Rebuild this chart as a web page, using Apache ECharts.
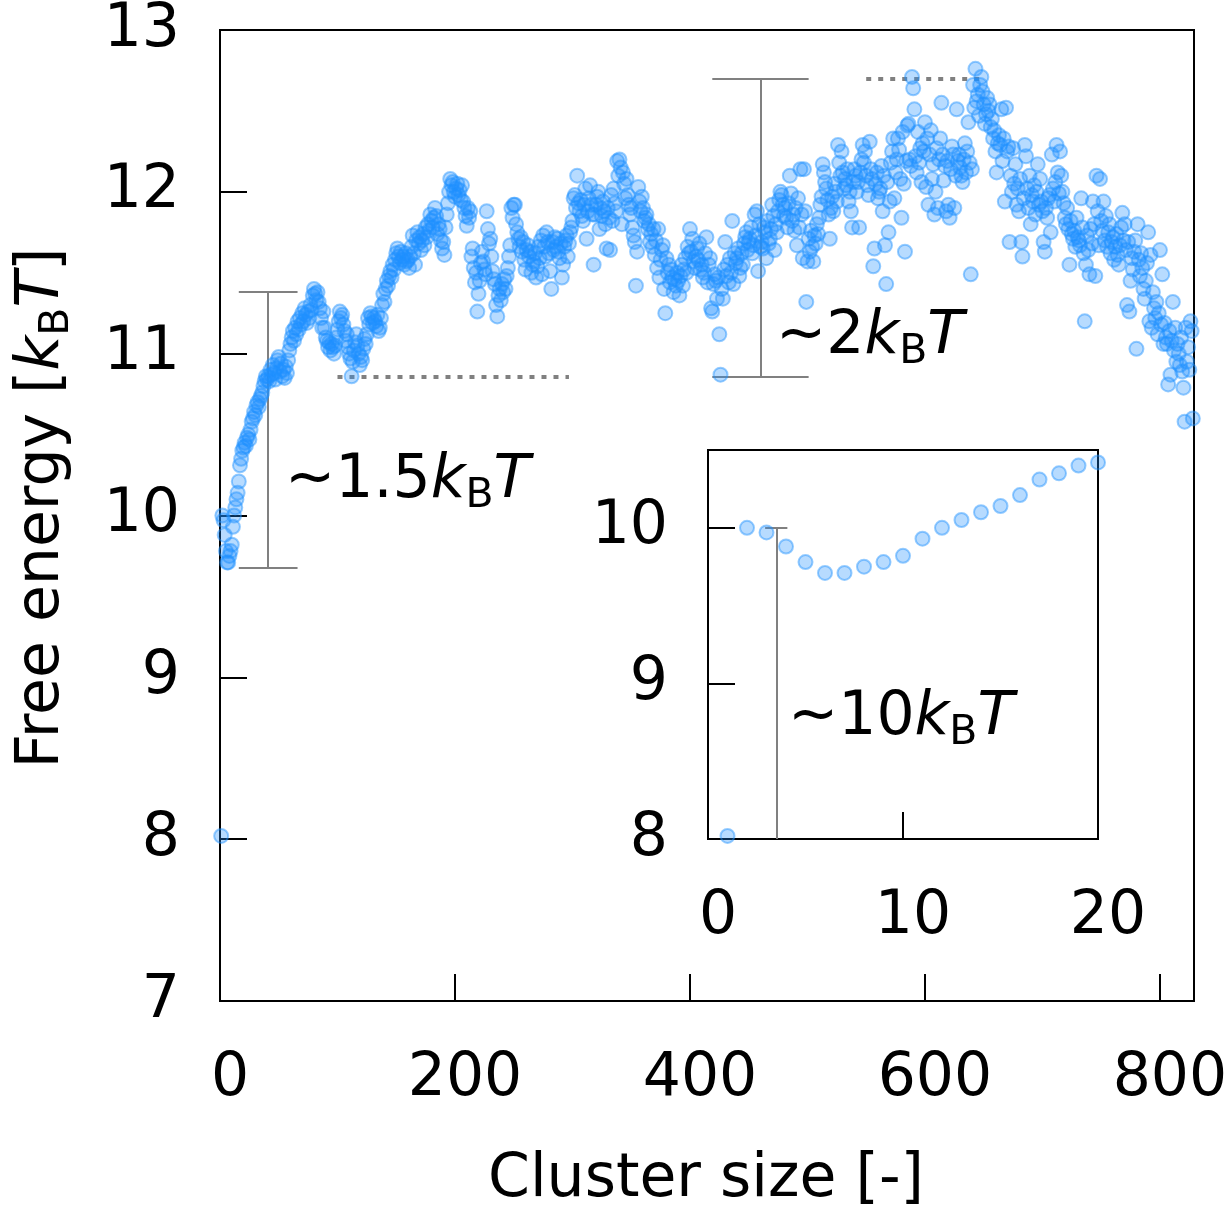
<!DOCTYPE html>
<html>
<head>
<meta charset="utf-8">
<script src="https://cdn.jsdelivr.net/npm/echarts@6/dist/echarts.min.js"></script>
<style>
  html, body { margin: 0; padding: 0; background: #fff; }
  #chart { width: 1231px; height: 1211px; }
</style>
</head>
<body>
<div id="chart"></div>
<script>
// Free energy (kB T) versus cluster size; entry i is cluster size i + 1.
const fe001to100 = [
  8.02, 10.00, 9.97, 9.88, 9.78, 9.71, 9.71, 9.75, 9.78, 9.82,
  9.93, 10.00, 10.05, 10.10, 10.14, 10.21, 10.31, 10.35, 10.40, 10.42,
  10.45, 10.43, 10.48, 10.50, 10.47, 10.53, 10.58, 10.60, 10.64, 10.62,
  10.68, 10.70, 10.67, 10.72, 10.74, 10.76, 10.80, 10.83, 10.86, 10.84,
  10.86, 10.83, 10.90, 10.87, 10.93, 10.88, 10.84, 10.91, 10.96, 10.98,
  10.89, 10.94, 10.86, 10.90, 10.85, 10.92, 10.88, 10.96, 11.02, 11.06,
  11.10, 11.14, 11.08, 11.16, 11.12, 11.20, 11.15, 11.22, 11.18, 11.25,
  11.20, 11.28, 11.24, 11.19, 11.26, 11.22, 11.30, 11.27, 11.36, 11.40,
  11.37, 11.33, 11.38, 11.32, 11.28, 11.22, 11.16, 11.26, 11.16, 11.10,
  11.08, 11.04, 11.07, 11.02, 11.06, 11.04, 11.00, 11.05, 11.10, 11.15
];
const fe101to200 = [
  11.20, 11.26, 11.22, 11.24, 11.18, 11.14, 11.08, 11.12, 11.04, 11.00,
  10.97, 10.86, 10.95, 11.02, 11.07, 11.12, 11.05, 11.00, 10.93, 10.98,
  10.96, 11.03, 11.09, 11.06, 11.12, 11.22, 11.18, 11.25, 11.23, 11.19,
  11.22, 11.20, 11.17, 11.24, 11.14, 11.16, 11.22, 11.30, 11.37, 11.32,
  11.40, 11.45, 11.42, 11.48, 11.51, 11.47, 11.55, 11.52, 11.58, 11.62,
  11.65, 11.60, 11.56, 11.63, 11.58, 11.60, 11.55, 11.62, 11.57, 11.58,
  11.53, 11.60, 11.66, 11.73, 11.62, 11.55, 11.70, 11.75, 11.68, 11.72,
  11.64, 11.70, 11.74, 11.67, 11.78, 11.72, 11.80, 11.76, 11.86, 11.82,
  11.78, 11.84, 11.90, 11.85, 11.74, 11.80, 11.77, 11.70, 11.65, 11.69,
  11.61, 11.78, 11.86, 11.93, 12.00, 12.08, 12.04, 12.06, 12.00, 11.97
];
const fe201to300 = [
  12.02, 12.05, 11.98, 12.01, 11.95, 12.04, 11.94, 11.90, 11.85, 11.79,
  11.90, 11.84, 11.88, 11.60, 11.65, 11.53, 11.44, 11.50, 11.26, 11.37,
  11.45, 11.56, 11.63, 11.57, 11.52, 11.49, 11.88, 11.77, 11.68, 11.71,
  11.60, 11.51, 11.46, 11.43, 11.30, 11.23, 11.36, 11.40, 11.33, 11.43,
  11.38, 11.46, 11.40, 11.48, 11.53, 11.60, 11.67, 11.90, 11.84, 11.92,
  11.92, 11.80, 11.75, 11.71, 11.66, 11.72, 11.63, 11.69, 11.58, 11.52,
  11.64, 11.67, 11.60, 11.63, 11.50, 11.55, 11.57, 11.62, 11.47, 11.54,
  11.66, 11.59, 11.70, 11.49, 11.73, 11.66, 11.60, 11.75, 11.69, 11.62,
  11.51, 11.40, 11.69, 11.64, 11.72, 11.66, 11.71, 11.63, 11.59, 11.68,
  11.47, 11.55, 11.66, 11.70, 11.73, 11.60, 11.68, 11.75, 11.78, 11.82
];
const fe301to400 = [
  11.96, 11.98, 11.90, 12.10, 11.93, 11.88, 11.95, 11.85, 11.82, 11.92,
  12.02, 11.71, 11.88, 11.96, 12.04, 11.92, 11.86, 11.55, 11.86, 11.92,
  11.97, 12.00, 11.77, 11.90, 11.85, 11.94, 11.88, 11.80, 11.65, 11.90,
  11.84, 11.64, 11.98, 11.82, 12.02, 11.93, 11.88, 12.19, 12.10, 12.20,
  12.15, 11.80, 12.12, 12.05, 11.96, 12.08, 11.98, 11.92, 11.86, 11.90,
  11.78, 11.73, 11.69, 11.42, 11.63, 12.03, 11.94, 11.88, 11.97, 11.90,
  11.82, 11.84, 11.86, 11.77, 11.80, 11.69, 11.74, 11.66, 11.77, 11.61,
  11.70, 11.53, 11.77, 11.47, 11.58, 11.64, 11.67, 11.40, 11.25, 11.59,
  11.50, 11.55, 11.44, 11.52, 11.47, 11.38, 11.46, 11.42, 11.50, 11.45,
  11.36, 11.48, 11.55, 11.42, 11.52, 11.59, 11.50, 11.66, 11.62, 11.77
];
const fe401to500 = [
  11.63, 11.71, 11.57, 11.53, 11.60, 11.65, 11.58, 11.68, 11.52, 11.55,
  11.47, 11.50, 11.62, 11.72, 11.44, 11.55, 11.59, 11.28, 11.26, 11.43,
  11.49, 11.45, 11.34, 11.47, 11.12, 10.87, 11.40, 11.34, 11.52, 11.69,
  11.48, 11.55, 11.44, 11.59, 11.50, 11.82, 11.43, 11.62, 11.56, 11.59,
  11.65, 11.48, 11.53, 11.62, 11.55, 11.68, 11.72, 11.75, 11.64, 11.69,
  11.71, 11.78, 11.62, 11.67, 11.86, 11.73, 11.88, 11.51, 11.80, 11.66,
  11.69, 11.65, 11.78, 11.75, 11.59, 11.82, 11.68, 11.71, 11.77, 11.92,
  11.85, 11.64, 11.80, 11.75, 11.88, 11.95, 12.00, 11.98, 11.92, 11.85,
  11.90, 11.84, 11.78, 11.93, 12.10, 11.99, 11.82, 11.86, 11.76, 11.90,
  11.67, 11.96, 11.78, 12.14, 11.86, 11.59, 12.14, 11.88, 11.32, 11.57
];
const fe501to600 = [
  11.71, 11.63, 11.76, 11.66, 11.57, 11.73, 11.68, 11.80, 11.74, 11.84,
  11.92, 11.97, 12.17, 12.12, 12.06, 12.02, 11.95, 11.86, 11.71, 11.90,
  11.97, 11.88, 12.05, 12.00, 11.94, 12.29, 12.18, 12.10, 12.25, 12.12,
  12.02, 12.08, 12.04, 12.14, 11.94, 12.00, 11.88, 11.78, 12.06, 12.14,
  12.10, 12.00, 12.06, 11.78, 12.12, 12.20, 12.29, 12.18, 12.25, 12.10,
  12.04, 11.98, 12.31, 12.14, 12.08, 11.54, 11.65, 12.05, 12.12, 11.96,
  12.00, 12.02, 12.16, 11.88, 12.10, 11.67, 11.43, 12.06, 11.75, 11.94,
  12.18, 12.25, 12.33, 11.96, 12.12, 12.20, 12.33, 12.26, 12.08, 11.84,
  12.37, 12.05, 11.63, 12.19, 12.41, 12.42, 12.20, 12.16, 12.71, 12.64,
  12.51, 12.22, 12.12, 12.37, 12.18, 12.27, 12.06, 12.30, 12.25, 12.43
];
const fe601to700 = [
  12.03, 12.33, 11.92, 12.23, 12.38, 12.08, 12.17, 11.86, 12.00, 12.27,
  11.90, 12.20, 12.33, 12.55, 12.23, 12.07, 12.16, 11.88, 12.19, 11.92,
  11.84, 12.14, 12.28, 12.23, 11.90, 12.10, 12.51, 12.19, 12.23, 12.15,
  12.10, 12.06, 12.20, 12.30, 12.12, 12.25, 12.43, 12.18, 11.49, 12.14,
  12.66, 12.52, 12.76, 12.56, 12.60, 12.47, 12.66, 12.71, 12.62, 12.54,
  12.42, 12.48, 12.58, 12.50, 12.54, 12.40, 12.45, 12.33, 12.38, 12.25,
  12.12, 12.30, 12.35, 12.29, 12.51, 12.19, 12.33, 11.94, 12.52, 12.25,
  12.28, 11.69, 12.10, 12.00, 12.27, 12.05, 12.17, 11.92, 12.02, 11.88,
  12.08, 11.69, 11.60, 11.96, 12.29, 12.22, 12.02, 11.90, 12.10, 11.80,
  11.98, 11.94, 12.04, 11.86, 12.00, 12.17, 11.92, 12.08, 11.94, 11.88
];
const fe701to800 = [
  11.69, 11.63, 11.90, 11.84, 11.96, 11.98, 11.75, 12.23, 12.02, 11.94,
  12.06, 12.29, 12.12, 11.99, 12.25, 12.10, 12.00, 11.93, 11.84, 11.80,
  11.90, 11.77, 11.55, 11.82, 11.74, 11.71, 11.76, 11.66, 11.84, 11.72,
  11.70, 11.67, 11.96, 11.78, 11.62, 11.20, 11.55, 11.73, 11.64, 11.49,
  11.77, 11.68, 11.94, 11.80, 11.48, 12.10, 11.88, 11.67, 12.08, 11.82,
  11.76, 11.94, 11.70, 11.85, 11.66, 11.75, 11.80, 11.62, 11.69, 11.72,
  11.58, 11.66, 11.74, 11.61, 11.55, 11.67, 11.78, 11.87, 11.70, 11.80,
  11.64, 11.30, 11.69, 11.26, 11.45, 11.59, 11.52, 11.63, 11.70, 11.03,
  11.80, 11.58, 11.48, 11.62, 11.53, 11.40, 11.34, 11.45, 11.56, 11.75,
  11.20, 11.61, 11.16, 11.38, 11.28, 11.22, 11.32, 11.12, 11.25, 11.64
];
const fe801to828 = [
  11.18, 11.49, 11.06, 11.19, 11.10, 11.06, 10.81, 11.14, 10.87, 11.08,
  11.32, 11.02, 11.16, 10.95, 11.06, 11.00, 10.93, 11.10, 10.89, 10.79,
  10.58, 11.16, 10.95, 11.04, 10.90, 11.20, 11.14, 10.60
];

// Barrier markers: [cluster size, lower, upper]
const barrierMain = [[41, 9.68, 11.38], [460, 10.86, 12.70]];
const barrierInset = [[3.5, 8.0, 10.0]];
// Reference levels: [from size, to size, level]
const levelLines = [[100, 297, 10.86], [550, 651, 12.70]];

const mainTicksX = [0, 200, 400, 600, 800];
const mainTicksY = [7, 8, 9, 10, 11, 12, 13];
const insetTicksX = [0, 10, 20];
const insetTicksY = [8, 9, 10];

const freeEnergy = [].concat(fe001to100, fe101to200, fe201to300, fe301to400,
  fe401to500, fe501to600, fe601to700, fe701to800, fe801to828);
const points = freeEnergy.map((v, i) => [i + 1, v]);
const insetPoints = points.slice(0, 20);

const FONT = 'DejaVu Sans';
const FS = 60;
const SUB = 41;
const GREY = '#808080';

function segmentsFor(bars, capHalf) {
  const segs = [];
  bars.forEach(([x, lo, hi]) => {
    segs.push({ coords: [[x, lo], [x, hi]] });
    segs.push({ coords: [[x - capHalf, hi], [x + capHalf, hi]] });
    segs.push({ coords: [[x - capHalf, lo], [x + capHalf, lo]] });
  });
  return segs;
}
const mainBarSegs = [];
mainBarSegs.push(...segmentsFor([barrierMain[0]], 25));
mainBarSegs.push(...segmentsFor([barrierMain[1]], 41));
const insetBarSegs = barrierInset.map(([x, lo, hi]) => [
  { coords: [[x, lo], [x, hi]] },
  { coords: [[x - 0.57, hi], [x + 0.57, hi]] }
]).flat();
const levelSegs = levelLines.map(([a, b, y]) => ({ coords: [[a, y], [b, y]] }));

function tickFormatter(list) {
  return v => (list.indexOf(v) >= 0 ? String(v) : '');
}

function axisBase(extra) {
  return Object.assign({
    type: 'value',
    axisLine: { show: true, onZero: false, lineStyle: { color: '#000', width: 2 } },
    axisTick: { show: true, inside: true, length: 27, lineStyle: { color: '#000', width: 2 } },
    splitLine: { show: false }
  }, extra);
}

const scatterStyle = {
  color: 'rgba(30,144,255,0.4)',
  borderColor: 'rgba(30,144,255,0.58)',
  borderWidth: 2
};

const rich = {
  n: { fontFamily: FONT, fontSize: FS, lineHeight: 72, color: '#000' },
  k: { fontFamily: FONT, fontSize: FS, lineHeight: 72, fontStyle: 'italic', color: '#000' },
  s: { fontFamily: FONT, fontSize: SUB, lineHeight: 30, verticalAlign: 'bottom', color: '#000' }
};

const xLabel = list => ({ color: '#000', fontFamily: FONT, fontSize: FS, margin: 48, padding: [0, 0, 0, 20], formatter: tickFormatter(list) });
const yLabel = list => ({ color: '#000', fontFamily: FONT, fontSize: FS, margin: 40, padding: [22, 0, 0, 0], formatter: tickFormatter(list) });

const chart = echarts.init(document.getElementById('chart'), null, { renderer: 'canvas' });
chart.setOption({
  animation: false,
  backgroundColor: '#fff',
  grid: [
    { left: 220, top: 28, width: 974, height: 973, show: true, borderColor: '#000', borderWidth: 2, backgroundColor: 'transparent' },
    { left: 708, top: 450, width: 390, height: 389, show: true, borderColor: '#000', borderWidth: 2, backgroundColor: '#fff' }
  ],
  xAxis: [
    axisBase({ gridIndex: 0, min: 0, max: 829, interval: 200, axisLabel: xLabel(mainTicksX) }),
    axisBase({ gridIndex: 1, min: 0, max: 20, interval: 10, axisLabel: xLabel(insetTicksX) })
  ],
  yAxis: [
    axisBase({ gridIndex: 0, min: 7, max: 13, interval: 1, axisLabel: yLabel(mainTicksY) }),
    axisBase({ gridIndex: 1, min: 8, max: 10.5, interval: 1, axisLabel: yLabel(insetTicksY) })
  ],
  series: [
    { type: 'lines', coordinateSystem: 'cartesian2d', xAxisIndex: 0, yAxisIndex: 0, silent: true, z: 2,
      data: mainBarSegs, lineStyle: { color: GREY, width: 2, opacity: 1, curveness: 0 } },
    { type: 'lines', coordinateSystem: 'cartesian2d', xAxisIndex: 0, yAxisIndex: 0, silent: true, z: 2,
      data: levelSegs, lineStyle: { color: GREY, width: 4, opacity: 1, type: [5, 7], curveness: 0 } },
    { type: 'scatter', xAxisIndex: 0, yAxisIndex: 0, data: points, symbol: 'circle', symbolSize: 14,
      itemStyle: scatterStyle, silent: true, z: 3, clip: false },
    { type: 'lines', coordinateSystem: 'cartesian2d', xAxisIndex: 1, yAxisIndex: 1, silent: true, z: 5,
      data: insetBarSegs, lineStyle: { color: GREY, width: 2, opacity: 1, curveness: 0 } },
    { type: 'scatter', xAxisIndex: 1, yAxisIndex: 1, data: insetPoints, symbol: 'circle', symbolSize: 14,
      itemStyle: scatterStyle, silent: true, z: 6, clip: false }
  ],
  graphic: [
    { type: 'text', x: 285, y: 481, silent: true, z: 10,
      style: { text: '{n|~1.5}{k|k}{s|B}{k|T}', rich: rich, verticalAlign: 'middle', align: 'left' } },
    { type: 'text', x: 776, y: 337, silent: true, z: 10,
      style: { text: '{n|~2}{k|k}{s|B}{k|T}', rich: rich, verticalAlign: 'middle', align: 'left' } },
    { type: 'text', x: 788, y: 718, silent: true, z: 10,
      style: { text: '{n|~10}{k|k}{s|B}{k|T}', rich: rich, verticalAlign: 'middle', align: 'left' } },
    { type: 'text', x: 706, y: 1180, silent: true, z: 10,
      style: { text: 'Cluster size [-]', fontFamily: FONT, fontSize: FS, fill: '#000', align: 'center', verticalAlign: 'middle' } },
    { type: 'text', x: 42, y: 508, rotation: Math.PI / 2, silent: true, z: 10,
      style: { text: '{n|Free energy [}{k|k}{s|B}{k|T}{n|]}', rich: rich, align: 'center', verticalAlign: 'middle' } }
  ]
});
</script>
</body>
</html>
